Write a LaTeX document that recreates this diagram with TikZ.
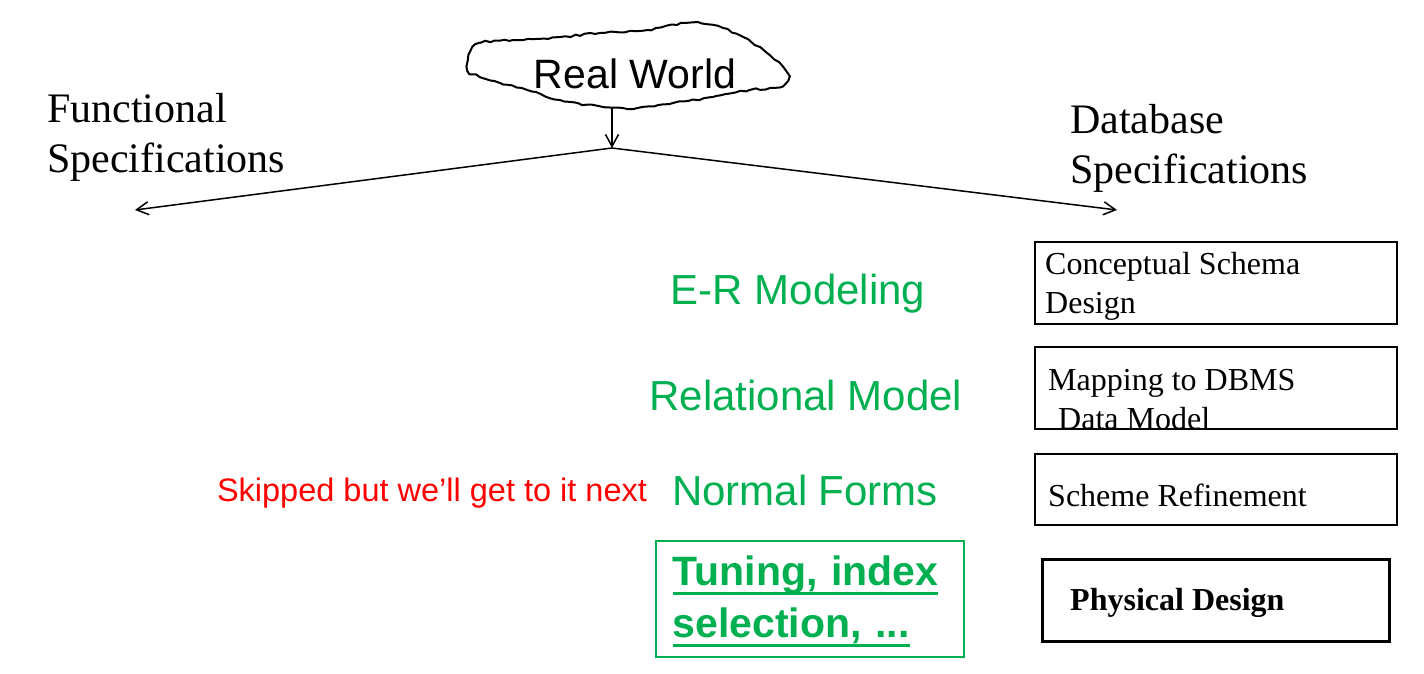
\documentclass[tikz,border=0pt]{standalone}
\usepackage{fontspec}
\setmainfont{Liberation Serif}
\newfontfamily\arialfont{Liberation Sans}
\usepackage{xcolor}
\usetikzlibrary{arrows,arrows.meta,shapes,positioning,decorations.pathmorphing}
\definecolor{pptgreen}{HTML}{00B050}
\definecolor{pptred}{HTML}{FF0000}
\newsavebox\tunebox
\newcommand\tuneul[1]{\leavevmode\sbox\tunebox{#1}\rlap{\rule[-9pt]{\wd\tunebox}{3pt}}\usebox\tunebox}

\begin{document}
\begin{tikzpicture}[x=1pt,y=-1pt,
    specbox/.style={draw, rectangle, line width=1.8pt, inner sep=0pt, anchor=north west},
    boxtext/.style={anchor=base west, inner sep=0pt, align=left, font=\fontsize{32}{39}\selectfont},
    steplabel/.style={anchor=base, inner sep=0pt, text=pptgreen, font=\arialfont\fontsize{42}{50}\selectfont},
    speclabel/.style={anchor=base west, inner sep=0pt, align=left, font=\fontsize{42}{50}\selectfont},
    fork/.style={-{Straight Barb[length=12pt, width=13pt, line width=1.5pt]}, line width=1.5pt}]
    \useasboundingbox (0,0) rectangle (1424,674);

    % Wolke mit der realen Welt
    \draw[line width=2pt, decorate, decoration={random steps, segment length=5pt, amplitude=1pt}]
        plot[smooth cycle, tension=0.6] coordinates {(470,52) (480,43) (513,40) (560,37) (600,33)
        (647,30) (687,23) (713,25) (743,37) (767,53) (783,67) (788,77) (780,87) (750,90)
        (713,97) (673,103) (637,108) (603,107) (560,100) (527,90) (500,83) (480,77) (468,70)};
    \node[anchor=base, inner sep=0pt, font=\arialfont\fontsize{41}{48}\selectfont] (world) at (635,89) {Real World};

    \coordinate (cloudbot) at (612,108);
    \coordinate (split) at (612,148);
    \coordinate (funcend) at (135,210);
    \coordinate (dbend) at (1117,210);
    \draw[fork] (cloudbot) -- (split);
    \draw[fork] (split) -- (funcend);
    \draw[fork] (split) -- (dbend);

    \node[speclabel] (funcspec) at (47,172) {Functional\\Specifications};
    \node[speclabel] (dbspec) at (1070,183) {Database\\Specifications};

    % Schritte links
    \node[steplabel] (ermodel) at (798,304) {E-R Modeling};
    \node[steplabel] (relmodel) at (806,410) {Relational Model};
    \node[steplabel] (normal) at (805,505) {Normal Forms};
    \node[anchor=base, inner sep=0pt, text=pptred, font=\arialfont\fontsize{32.5}{39}\selectfont] (skipped) at (432,501) {Skipped but we’ll get to it next};
    \node[draw=pptgreen, line width=1.5pt, anchor=north west, text width=274pt, inner xsep=17pt, inner ysep=10pt, align=left,
          text=pptgreen, font=\arialfont\bfseries\fontsize{41}{52}\selectfont] (tuning) at (655,540)
          {\rule{0pt}{35pt}\tuneul{Tuning, index}\\\tuneul{selection, ...}};

    % Kaesten rechts
    \node[specbox, minimum width=362, minimum height=82] (concept) at (1034,241) {};
    \node[boxtext] (concepttext) at (1045,313) {Conceptual Schema\\Design};
    \node[specbox, minimum width=362, minimum height=82] (mapping) at (1034,346) {};
    \node[boxtext] (mappingtext) at (1048,429) {Mapping to DBMS\\\hspace*{10pt}Data Model};
    \node[specbox, minimum width=362, minimum height=71] (refine) at (1034,453) {};
    \node[boxtext] (refinetext) at (1048,506) {Scheme Refinement};
    \node[specbox, line width=2.6pt, minimum width=347, minimum height=82] (physical) at (1041,558) {};
    \node[boxtext, font=\bfseries\fontsize{32}{39}\selectfont] (physicaltext) at (1070,610) {Physical Design};
\end{tikzpicture}
\end{document}
